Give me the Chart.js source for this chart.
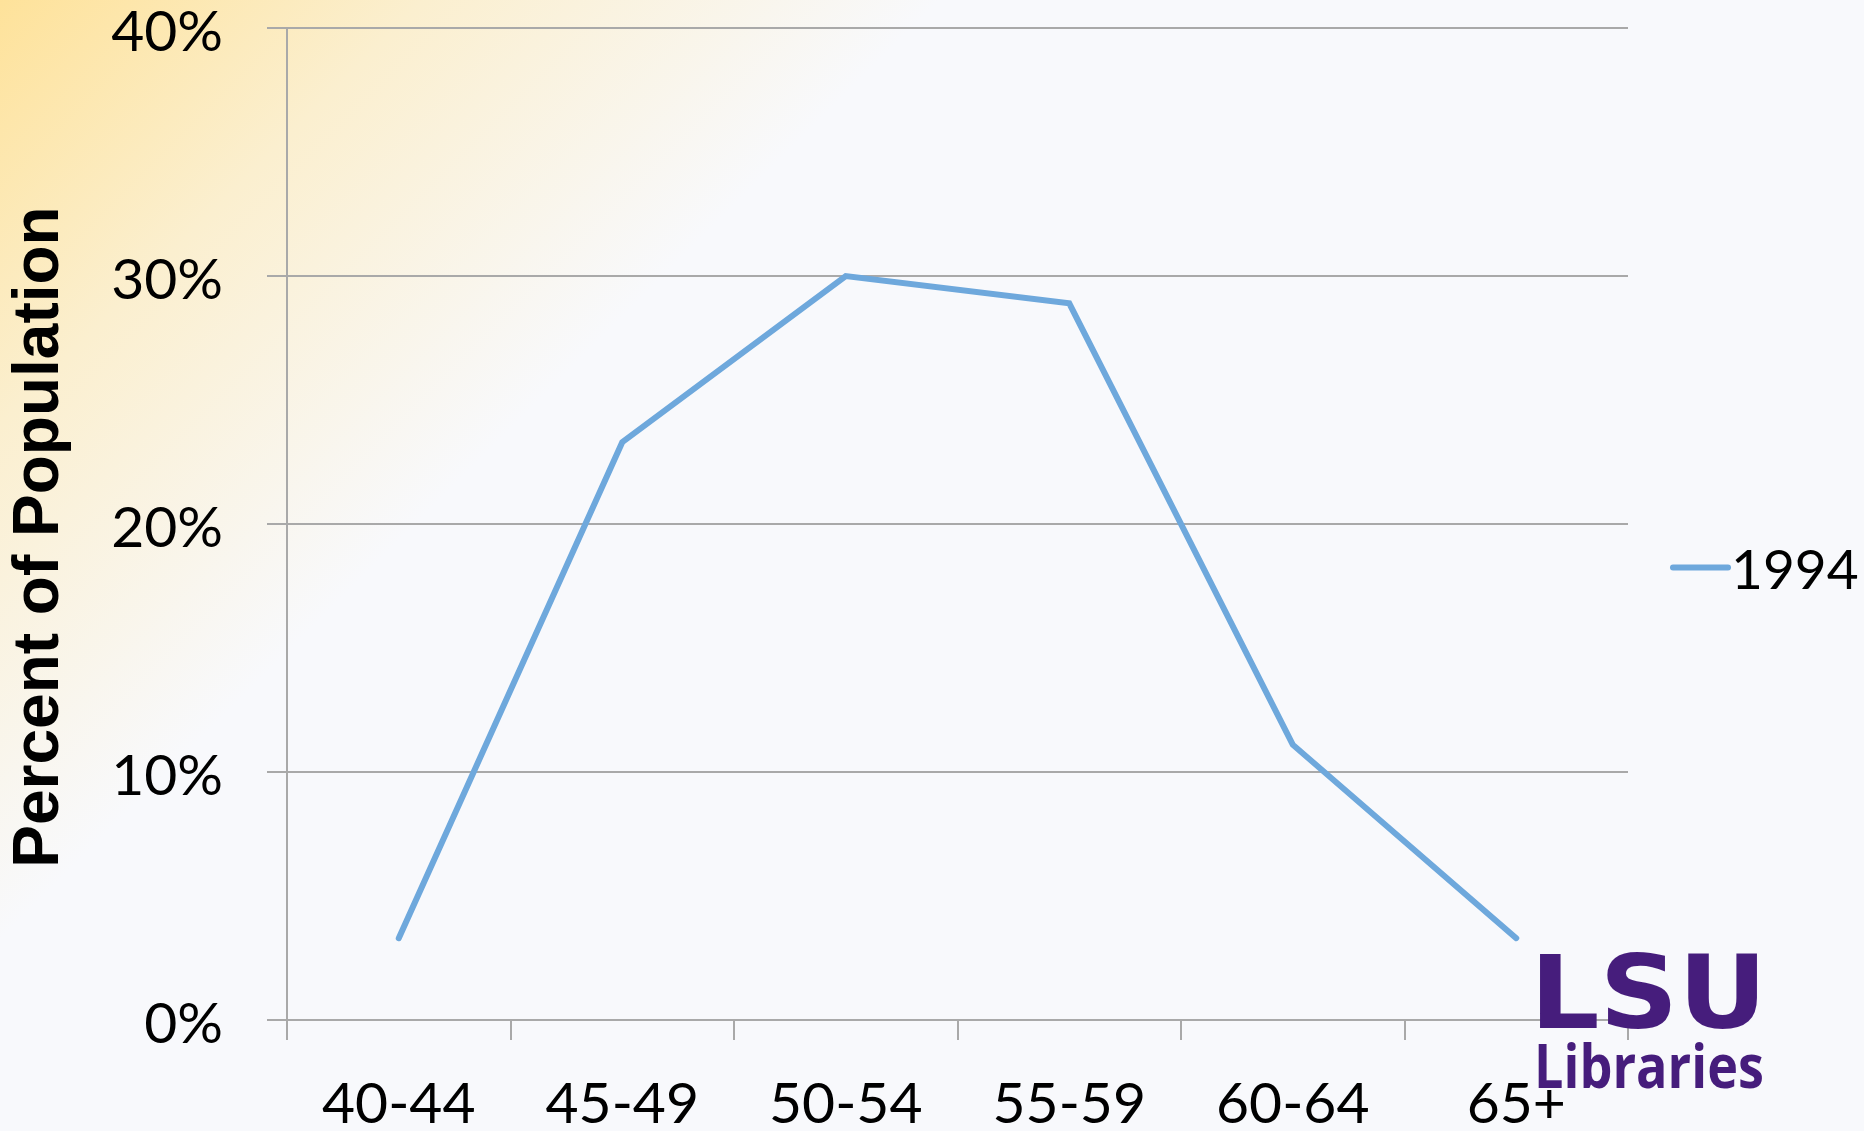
<!DOCTYPE html>
<html><head><meta charset="utf-8">
<script src="https://cdn.jsdelivr.net/npm/chart.js@4.4.1/dist/chart.umd.min.js"></script>
<style>html,body{margin:0;padding:0;background:#f8f9fc;overflow:hidden}#wrap{width:1864px;height:1131px;position:relative}canvas{display:block}</style>
</head><body><div id="wrap"><canvas id="c" width="1864" height="1131"></canvas></div>
<script>
// ---- data ----
const categories = ['40-44', '45-49', '50-54', '55-59', '60-64', '65+'];
const values1994 = [3.3, 23.3, 30.0, 28.9, 11.1, 3.3];
const seriesLabel = '1994';
const yMin = 0, yMax = 40, yStep = 10;
const axisTitle = 'Percent of Population';
const logoTop = 'LSU';
const logoBottom = 'Libraries';

// ---- styles ----
const lineColor = '#6ea8dc';
const gridColor = '#a9a9a9';
const tickFont = { family: 'Lato, "Open Sans", sans-serif', size: 57 };
const logoPurple = '#461d7c';

const bgPlugin = {
  id: 'bg',
  beforeDraw(chart) {
    const ctx = chart.ctx;
    ctx.save();
    const g = ctx.createLinearGradient(0, 0, 470, 470);
    g.addColorStop(0, '#fee29a');
    g.addColorStop(0.45, '#fbefcf');
    g.addColorStop(1, '#f8f9fc');
    ctx.fillStyle = g;
    ctx.fillRect(0, 0, chart.width, chart.height);
    ctx.restore();
  }
};

const titlePlugin = {
  id: 'yTitle',
  afterDraw(chart) {
    const ctx = chart.ctx;
    const a = chart.chartArea;
    ctx.save();
    ctx.translate(40, (a.top + a.bottom) / 2 + 13);
    ctx.rotate(-Math.PI / 2);
    ctx.fillStyle = '#000';
    ctx.font = 'bold 64px "Liberation Sans", Arial, sans-serif';
    ctx.textAlign = 'center';
    ctx.textBaseline = 'middle';
    ctx.fillText(axisTitle, 0, 0);
    ctx.restore();
  }
};

const legendPlugin = {
  id: 'sideLegend',
  afterDraw(chart) {
    const ctx = chart.ctx;
    const ds = chart.data.datasets[0];
    const x0 = chart.chartArea.right + 45;
    const y = chart.height / 2 + 2;
    ctx.save();
    ctx.strokeStyle = ds.borderColor;
    ctx.lineWidth = ds.borderWidth;
    ctx.lineCap = 'round';
    ctx.beginPath();
    ctx.moveTo(x0, y);
    ctx.lineTo(x0 + 55, y);
    ctx.stroke();
    ctx.fillStyle = '#000';
    ctx.font = '55px ' + tickFont.family;
    ctx.textBaseline = 'middle';
    ctx.textAlign = 'left';
    ctx.fillText(ds.label, x0 + 58, y + 4);
    ctx.restore();
  }
};

const logoPlugin = {
  id: 'logo',
  afterDraw(chart) {
    const ctx = chart.ctx;
    ctx.save();
    ctx.fillStyle = logoPurple;
    ctx.textBaseline = 'alphabetic';
    ctx.textAlign = 'left';
    ctx.font = 'bold 102px "DejaVu Sans", sans-serif';
    let w = ctx.measureText(logoTop).width;
    ctx.save();
    ctx.translate(1530, 1028);
    ctx.scale(237 / w, 1);
    ctx.fillText(logoTop, 0, 0);
    ctx.restore();
    ctx.font = 'bold 60px "Open Sans", sans-serif';
    w = ctx.measureText(logoBottom).width;
    ctx.save();
    ctx.translate(1534, 1088);
    ctx.scale(230 / w, 1);
    ctx.fillText(logoBottom, 0, 0);
    ctx.restore();
    ctx.restore();
  }
};

new Chart(document.getElementById('c'), {
  type: 'line',
  data: {
    labels: categories,
    datasets: [{
      label: seriesLabel,
      data: values1994,
      borderColor: lineColor,
      backgroundColor: lineColor,
      borderWidth: 6,
      borderCapStyle: 'round',
      borderJoinStyle: 'miter',
      pointRadius: 0,
      pointHoverRadius: 0,
      tension: 0,
      fill: false
    }]
  },
  options: {
    responsive: false,
    animation: false,
    devicePixelRatio: 1,
    events: [],
    layout: { padding: { top: 28, right: 236, bottom: 0, left: 0 } },
    plugins: { legend: { display: false }, tooltip: { enabled: false } },
    scales: {
      x: {
        type: 'category',
        offset: true,
        grid: { display: true, offset: true, drawOnChartArea: false, drawTicks: true, tickLength: 20, color: gridColor, lineWidth: 2 },
        border: { display: true, color: gridColor, width: 2 },
        ticks: { color: '#000', font: tickFont, padding: 30, maxRotation: 0, autoSkip: false },
        afterFit(scale) { scale.height = 111; scale.paddingLeft = 0; scale.paddingRight = 0; }
      },
      y: {
        min: yMin, max: yMax,
        ticks: { stepSize: yStep, color: '#000', font: tickFont, padding: 44, labelOffset: 5,
          callback: (v) => v + '%' },
        grid: { color: gridColor, lineWidth: 2, drawTicks: true, tickLength: 20 },
        border: { display: true, color: gridColor, width: 2 },
        title: { display: false },
        afterFit(scale) { scale.width = 287; scale.paddingTop = 0; scale.paddingBottom = 0; }
      }
    }
  },
  plugins: [bgPlugin, titlePlugin, legendPlugin, logoPlugin]
});
</script>
</body></html>
